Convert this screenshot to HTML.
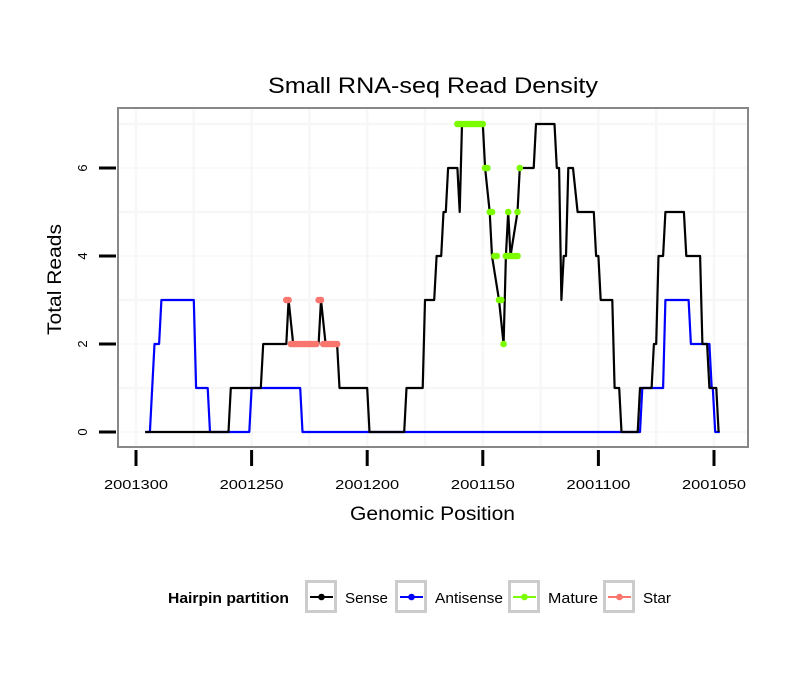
<!DOCTYPE html>
<html><head><meta charset="utf-8"><style>
body{margin:0;background:#fff;}
svg{display:block;font-family:"Liberation Sans",sans-serif;}
</style></head><body>
<svg id="chart" width="810" height="690">
<rect x="0" y="0" width="810" height="690" fill="#fff"/>
<g id="grid"></g>
<g id="series"></g>
<rect x="118" y="108" width="630" height="339" fill="none" stroke="#888" stroke-width="2"/>
<g id="axes"></g>
<text x="268" y="93" font-size="22" textLength="330" lengthAdjust="spacingAndGlyphs">Small RNA-seq Read Density</text>
<text x="350" y="520" font-size="19" textLength="165" lengthAdjust="spacingAndGlyphs">Genomic Position</text>
<text x="61" y="335" font-size="19" textLength="111" lengthAdjust="spacingAndGlyphs" transform="rotate(-90 61 335)">Total Reads</text>
<g id="legend">
<text x="168" y="603" font-size="15" font-weight="bold" textLength="121" lengthAdjust="spacingAndGlyphs">Hairpin partition</text>
</g>
</svg>
<script>
const senseX=[2001296,2001260,2001259,2001246,2001245,2001235,2001234,2001232,2001221,2001220,2001218,2001213,2001212,2001200,2001199,2001184,2001183,2001176,2001175,2001171,2001170,2001168,2001167,2001166,2001165,2001161,2001160,2001159,2001150,2001149,2001147,2001146,2001143,2001141,2001140,2001139,2001138,2001135,2001134,2001128,2001127,2001119,2001118,2001117,2001116,2001115,2001114,2001113,2001111,2001109,2001102,2001101,2001100,2001099,2001094,2001093,2001091,2001090,2001083,2001082,2001077,2001076,2001075,2001074,2001072,2001071,2001063,2001062,2001056,2001055,2001053,2001052,2001049,2001048];
const senseY=[0,0,1,1,2,2,3,2,2,3,2,2,1,1,0,0,1,1,3,3,4,4,5,5,6,6,5,7,7,6,5,4,3,2,4,5,4,5,6,6,7,7,6,6,3,4,4,6,6,5,5,4,4,3,3,1,1,0,0,1,1,2,2,4,4,5,5,4,4,2,2,1,1,0];
const antiX=[2001296,2001294,2001292,2001290,2001289,2001275,2001274,2001269,2001268,2001251,2001250,2001229,2001228,2001082,2001081,2001072,2001071,2001061,2001060,2001052,2001051,2001050.5,2001049.5,2001047.5];
const antiY=[0,0,2,2,3,3,1,1,0,0,1,1,0,0,1,1,3,3,2,2,1,1,0,0];
const matureX=[2001161,2001160,2001159,2001158,2001157,2001156,2001155,2001154,2001153,2001152,2001151,2001150,2001149,2001148,2001147,2001146,2001145,2001144,2001143,2001142,2001141,2001140,2001139,2001139,2001138,2001137,2001136,2001135,2001135,2001134];
const matureY=[7,7,7,7,7,7,7,7,7,7,7,7,6,6,5,5,4,4,3,3,2,4,4,5,4,4,4,4,5,6];
const starX=[2001235,2001234,2001233,2001232,2001231,2001230,2001229,2001228,2001227,2001226,2001225,2001224,2001223,2001222,2001221,2001220,2001219,2001218,2001217,2001216,2001215,2001214,2001213];
const starY=[3,3,2,2,2,2,2,2,2,2,2,2,2,2,3,3,2,2,2,2,2,2,2];
const xTicks=[2001300,2001250,2001200,2001150,2001100,2001050];
const yTicks=[0,2,4,6];

const NS="http://www.w3.org/2000/svg";
function X(v){return 136+(2001300-v)*2.312;}
function Y(v){return 432-v*44;}
function mk(tag,attrs,parent){const e=document.createElementNS(NS,tag);for(const k in attrs)e.setAttribute(k,attrs[k]);parent.appendChild(e);return e;}
const grid=document.getElementById('grid'),series=document.getElementById('series'),axes=document.getElementById('axes'),legend=document.getElementById('legend');
for(let v=0;v<=7;v++){const l=mk('line',{x1:118,x2:748,y1:Y(v),y2:Y(v),stroke:'#f7f7f7','stroke-width':v%2?2.5:1.5},grid);

}
for(let p=2001325;p>=2001025;p-=25){const x=X(p);if(x<119||x>747)continue;const l=mk('line',{x1:x,x2:x,y1:108,y2:447,stroke:'#f7f7f7','stroke-width':2.5},grid);

}
function path(xs,ys,color,name){let d='';xs.forEach((x,i)=>{d+=(i?'L':'M')+X(x).toFixed(1)+','+Y(ys[i]).toFixed(1);});
const p=mk('path',{d:d,fill:'none',stroke:color,'stroke-width':2.2,'stroke-linejoin':'round'},series);

}
path(antiX,antiY,'#0000ff','antisense-line');
path(senseX,senseY,'#000000','sense-line');
function pts(xs,ys,color,name){xs.forEach((x,i)=>{const c=mk('circle',{cx:X(x),cy:Y(ys[i]),r:3.3,fill:color},series);

});}
pts(starX,starY,'#f8766d','star-point');
pts(matureX,matureY,'#7cfc00','mature-point');
yTicks.forEach(v=>{const t=mk('line',{x1:99,x2:116,y1:Y(v),y2:Y(v),stroke:'#000','stroke-width':3},axes);


const tx=mk('text',{x:87,y:Y(v),'font-size':13,'text-anchor':'middle',transform:'rotate(-90 87 '+Y(v)+')'},axes);tx.textContent=v;

});
xTicks.forEach(v=>{const t=mk('line',{x1:X(v),x2:X(v),y1:450,y2:466,stroke:'#000','stroke-width':3},axes);


const tx=mk('text',{x:X(v)-32,y:489,'font-size':13,textLength:64,lengthAdjust:'spacingAndGlyphs'},axes);tx.textContent=v;

});
const keys=[['Sense','#000',305,43],['Antisense','#0000ff',395,68],['Mature','#7cfc00',508,50],['Star','#f8766d',603,28]];
keys.forEach(k=>{const g=mk('g',{},legend);


mk('rect',{x:k[2]+1.5,y:581.5,width:29,height:30,fill:'#fff',stroke:'#cccccc','stroke-width':3},g);
mk('line',{x1:k[2]+5,x2:k[2]+28,y1:597,y2:597,stroke:k[1],'stroke-width':2},g);
mk('circle',{cx:k[2]+16.5,cy:597,r:3.3,fill:k[1]},g);
const t=mk('text',{x:k[2]+40,y:603,'font-size':15,textLength:k[3],lengthAdjust:'spacingAndGlyphs'},g);t.textContent=k[0];});
</script>
</body></html>
